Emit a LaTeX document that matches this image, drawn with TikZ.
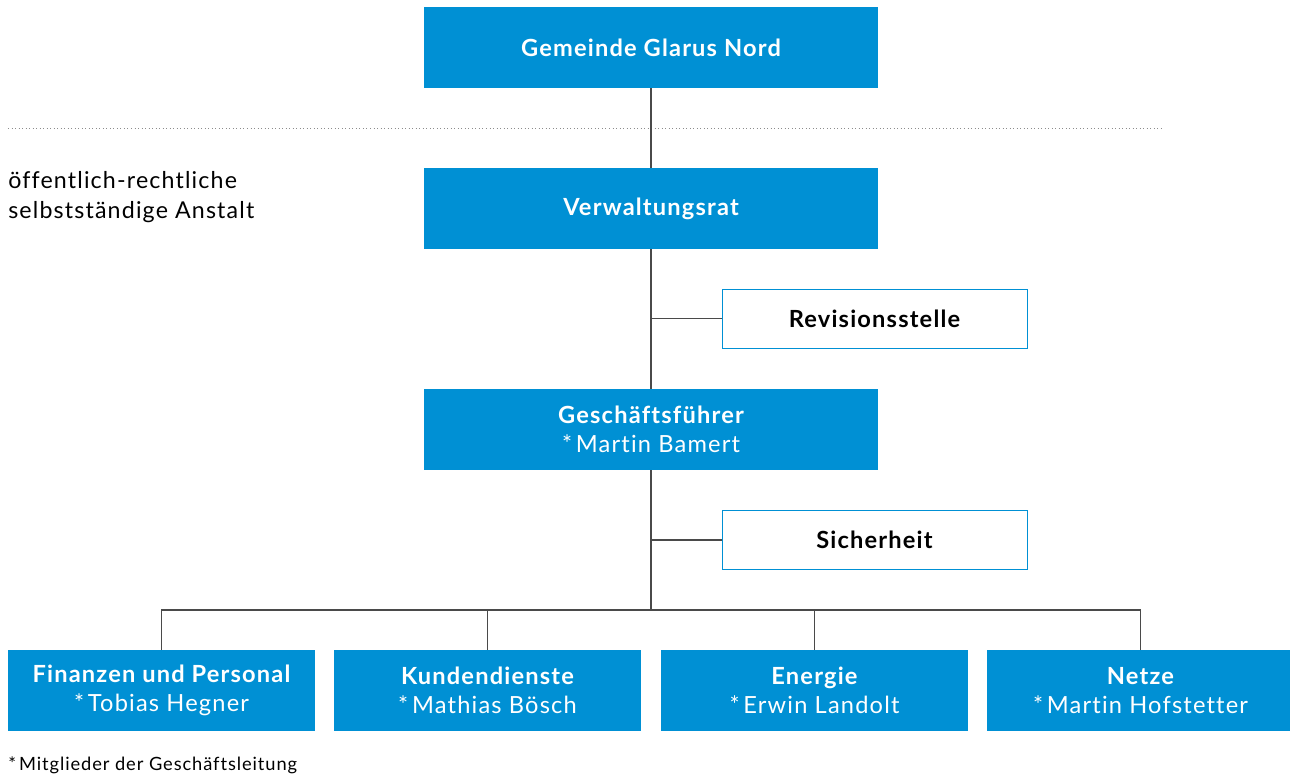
\documentclass[tikz,border=0pt]{standalone}
\usepackage{fontspec}
\setmainfont{Lato}[LetterSpace=5, Ligatures=CommonOff]
\usetikzlibrary{calc}
\definecolor{orgblue}{HTML}{0090D4}
\definecolor{orgline}{HTML}{4A4A4A}
\tikzset{
	bluebox/.style={fill=orgblue, text=white, minimum width=11.35cm, minimum height=2.025cm, align=center, font=\fontsize{16.8}{21}\selectfont, inner sep=0pt},
	unitbox/.style={bluebox, minimum width=7.675cm},
	whitebox/.style={draw=orgblue, line width=0.6pt, fill=white, text=black, minimum width=7.625cm, minimum height=1.475cm, font=\fontsize{16.8}{21}\selectfont\bfseries},
	orgedge/.style={draw=orgline, line width=0.75pt}
}

\begin{document}
\begin{tikzpicture}
			%%%%% START %%%%%
			\useasboundingbox (0, 0) rectangle (32.25, -19.4);
			
			\node[bluebox] (gemeinde) at (16.275, -1.1875) {\bfseries Gemeinde Glarus Nord};
			\draw[dotted, line width=0.5pt, color=black!45] (0.2, -3.2) -- (29.05, -3.2);
			\node[anchor=base west, align=left, inner sep=0pt, font=\fontsize{16.5}{21.3}\selectfont] (anstalt) at (0.2, -5.45) {öffentlich-rechtliche\\selbstständige Anstalt};
			
			\node[bluebox] (verwaltung) at (16.275, -5.2125) {\bfseries Verwaltungsrat};
			\node[whitebox] (revision) at (21.8625, -7.9625) {Revisionsstelle};
			
			\node[bluebox] (gf) at (16.275, -10.7375) {\bfseries Geschäftsführer\\*\,Martin Bamert};
			\node[whitebox] (sicherheit) at (21.8625, -13.5) {Sicherheit};
			
			\coordinate (bus) at (16.275, -15.25);
			
			\node[unitbox] (finanzen) at (4.0375, -17.2625) {\bfseries Finanzen und Personal\\*\,Tobias Hegner};
			\node[unitbox] (kunden) at (12.1875, -17.2625) {\bfseries Kundendienste\\*\,Mathias Bösch};
			\node[unitbox] (energie) at (20.3625, -17.2625) {\bfseries Energie\\*\,Erwin Landolt};
			\node[unitbox] (netze) at (28.5125, -17.2625) {\bfseries Netze\\*\,Martin Hofstetter};
			
			\node[anchor=base west, inner sep=0pt, font=\fontsize{13}{15}\selectfont] (fussnote) at (0.2, -19.25) {*\,Mitglieder der Geschäftsleitung};
			
			% connectors
			\draw[orgedge] (gemeinde.south) -- (verwaltung.north);
			\draw[orgedge] (verwaltung.south) -- (gf.north);
			\draw[orgedge] (verwaltung.south |- revision.west) -- (revision.west);
			\draw[orgedge] (gf.south) -- (bus);
			\draw[orgedge] (gf.south |- sicherheit.west) -- (sicherheit.west);
			\draw[orgedge] (finanzen.north) |- (bus) -| (netze.north);
			\draw[orgedge] (kunden.north) -- (kunden.north |- bus);
			\draw[orgedge] (energie.north) -- (energie.north |- bus);
			
			%%%%% END %%%%%
		\end{tikzpicture}
\end{document}
